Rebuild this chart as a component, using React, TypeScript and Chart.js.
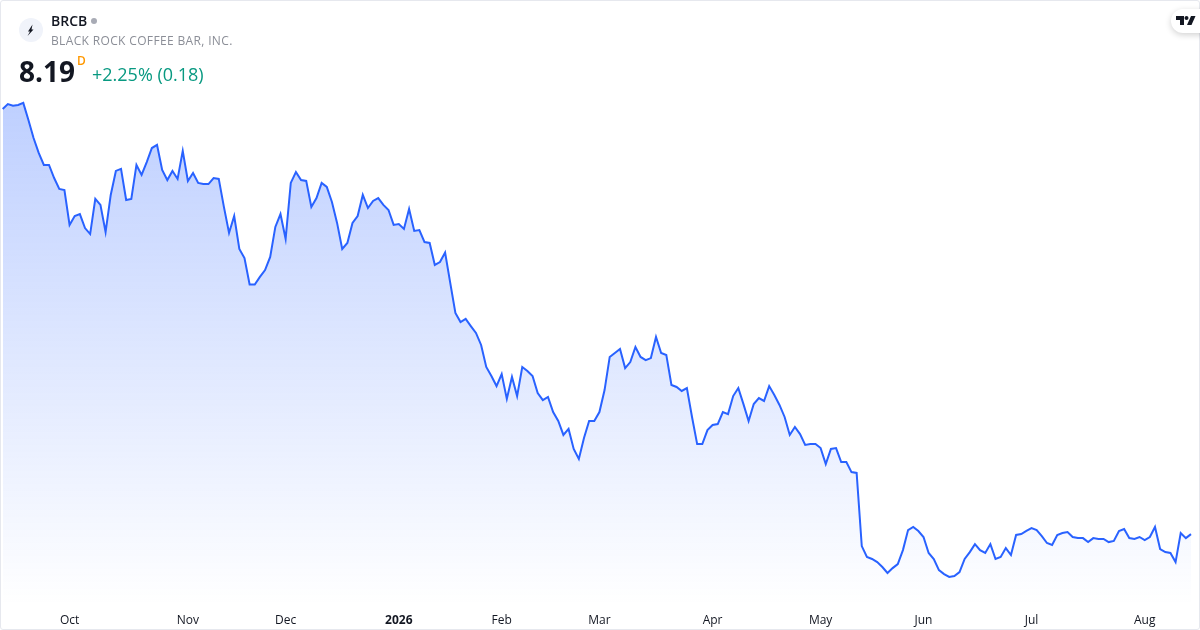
import React, { useEffect, useRef } from "react";
import { Chart, registerables } from "chart.js";

Chart.register(...registerables);

const closes = [
  27.32, 27.54, 27.46, 27.5, 27.59, 26.82, 26.01, 25.34, 24.8, 24.8, 24.21, 23.72, 23.67, 22.1, 22.5, 22.59,
  21.96, 21.69, 23.27, 23.0, 21.78, 23.45, 24.53, 24.62, 23.22, 23.27, 24.8, 24.35, 24.93, 25.56, 25.7, 24.57,
  24.12, 24.53, 24.17, 25.43, 24.08, 24.44, 23.99, 23.94, 23.94, 24.21, 24.17, 22.91, 21.74, 22.5, 21.02, 20.61,
  19.42, 19.42, 19.76, 20.07, 20.66, 22.01, 22.59, 21.47, 23.99, 24.48, 24.12, 24.08, 22.91, 23.31, 23.99, 23.81,
  23.13, 22.19, 21.02, 21.29, 22.19, 22.5, 23.45, 22.86, 23.18, 23.31, 23.0, 22.77, 22.1, 22.14, 21.92, 22.82,
  21.83, 21.87, 21.33, 21.29, 20.3, 20.43, 20.86, 19.49, 18.14, 17.73, 17.87, 17.55, 17.24, 16.7, 15.71, 15.3,
  14.85, 15.39, 14.27, 15.26, 14.4, 15.71, 15.53, 15.3, 14.54, 14.22, 14.36, 13.68, 13.28, 12.65, 12.92, 12.02,
  11.57, 12.51, 13.28, 13.28, 13.68, 14.67, 16.16, 16.34, 16.52, 15.66, 15.93, 16.61, 16.16, 16.02, 16.11, 17.06,
  16.34, 16.25, 14.9, 14.81, 14.63, 14.76, 13.46, 12.24, 12.24, 12.87, 13.1, 13.14, 13.68, 13.59, 14.4, 14.76,
  14.04, 13.28, 14.04, 14.31, 14.18, 14.85, 14.45, 14.0, 13.46, 12.65, 13.01, 12.69, 12.2, 12.24, 12.24, 12.06,
  11.34, 12.02, 12.06, 11.43, 11.43, 10.98, 10.94, 7.65, 7.16, 7.07, 6.93, 6.71, 6.44, 6.66, 6.84, 7.47,
  8.37, 8.51, 8.33, 8.06, 7.34, 7.07, 6.57, 6.39, 6.26, 6.3, 6.48, 7.07, 7.38, 7.74, 7.47, 7.34,
  7.74, 7.07, 7.16, 7.56, 7.25, 8.15, 8.19, 8.33, 8.46, 8.37, 8.1, 7.79, 7.7, 8.15, 8.24, 8.28,
  8.06, 8.01, 8.01, 7.83, 8.01, 7.97, 7.97, 7.83, 7.88, 8.33, 8.42, 8.01, 7.97, 8.06, 7.92, 8.06,
  8.51, 7.52, 7.38, 7.34, 6.93, 8.24, 8.01, 8.19,
];
const tickIndices = [13, 36, 55, 77, 97, 116, 138, 159, 179, 200, 222];
const tickLabels = ["Oct", "Nov", "Dec", "2026", "Feb", "Mar", "Apr", "May", "Jun", "Jul", "Aug"];
const sessions = closes.map((_, i) => String(i));

const FONT = '"Open Sans", sans-serif';

export default function App() {
  const ref = useRef<HTMLCanvasElement | null>(null);

  useEffect(() => {
    document.body.style.margin = "0";
    const chart = new Chart(ref.current as HTMLCanvasElement, {
      type: "line",
      data: {
        labels: sessions,
        datasets: [
          {
            data: closes,
            borderColor: "#2962FF",
            borderWidth: 2,
            pointRadius: 0,
            tension: 0,
            fill: "start",
            backgroundColor: (ctx: any) => {
              const c = ctx.chart;
              if (!c.chartArea) return "rgba(41,98,255,0.1)";
              const top = c.scales.y.getPixelForValue(Math.max(...closes));
              const g = c.ctx.createLinearGradient(0, top, 0, c.chartArea.bottom);
              g.addColorStop(0, "rgba(41,98,255,0.3)");
              g.addColorStop(1, "rgba(41,98,255,0)");
              return g;
            },
          },
        ],
      },
      options: {
        animation: false,
        responsive: false,
        devicePixelRatio: 1,
        layout: { padding: { left: 2.7, right: 9, top: 0, bottom: 0 } },
        plugins: { legend: { display: false }, tooltip: { enabled: false } },
        scales: {
          x: {
            type: "category",
            offset: false,
            grid: { display: false },
            border: { display: false },
            afterFit: (s: any) => {
              s.height = 25;
            },
            afterBuildTicks: (s: any) => {
              s.ticks = tickIndices.map((value) => ({ value }));
            },
            ticks: {
              autoSkip: false,
              maxRotation: 0,
              padding: 0,
              color: "#131722",
              font: (ctx: any) => ({
                family: FONT,
                size: 12,
                weight: ctx.tick && tickLabels[tickIndices.indexOf(ctx.tick.value)] === "2026" ? "bold" : "normal",
              }),
              callback: (value: any) => tickLabels[tickIndices.indexOf(Number(value))],
            },
          },
          y: { display: false, min: 5, max: 32.22 },
        },
      },
    } as any);
    return () => chart.destroy();
  }, []);

  const abs = (s: React.CSSProperties): React.CSSProperties => ({
    position: "absolute",
    whiteSpace: "nowrap",
    fontFamily: FONT,
    ...s,
  });

  return (
    <div
      style={{
        position: "relative",
        width: 1200,
        height: 630,
        overflow: "hidden",
        background: "#fff",
      }}
    >
      <canvas ref={ref} width={1200} height={630} style={{ position: "absolute", left: 0, top: 0, display: "block" }} />
      <div
        style={{
          position: "absolute",
          inset: 0,
          border: "1px solid #e6e8ee",
          borderRadius: 3,
          boxSizing: "border-box",
          pointerEvents: "none",
        }}
      />
      <div style={abs({ left: 19, top: 18, width: 24, height: 24, borderRadius: 12, background: "#f0f3fa" })}>
        <svg width="24" height="24" viewBox="0 0 24 24">
          <path d="M13.5 6.5 L9 13.5 L11 13.5 L8.5 18 L14.5 11.5 L12.5 11.5 Z" fill="#131722" />
        </svg>
      </div>
      <div style={abs({ left: 51, top: 12, fontSize: 14, lineHeight: "18px", fontWeight: 600, color: "#131722" })}>BRCB</div>
      <div style={abs({ left: 91, top: 18, width: 6, height: 6, borderRadius: 3, background: "#a8abb5" })} />
      <div style={abs({ left: 51, top: 32, fontSize: 12, lineHeight: "18px", letterSpacing: 0.35, color: "#8b8e97" })}>
        BLACK ROCK COFFEE BAR, INC.
      </div>
      <div style={abs({ left: 19, top: 52, fontSize: 28, lineHeight: "38px", fontWeight: 700, color: "#131722" })}>8.19</div>
      <div style={abs({ left: 77, top: 53, fontSize: 12, lineHeight: "16px", fontWeight: 600, color: "#ff9800" })}>D</div>
      <div style={abs({ left: 92, top: 62, fontSize: 18, lineHeight: "24px", color: "#089981" })}>+2.25% (0.18)</div>
      <div
        style={abs({
          left: 1171,
          top: 9,
          width: 44,
          height: 24,
          borderRadius: 12,
          background: "#fff",
          boxShadow: "0 2px 6px rgba(0,0,0,0.18)",
        })}
      >
        <svg width="20" height="12" viewBox="0 0 20 12" style={{ position: "absolute", left: 5, top: 6 }}>
          <path d="M0 1 H8 V10 H4 V5 H0 Z" fill="#131722" />
          <circle cx="10.5" cy="3" r="2" fill="#131722" />
          <path d="M15 1 H19.5 L15.5 10 H11 Z" fill="#131722" />
        </svg>
      </div>
    </div>
  );
}
